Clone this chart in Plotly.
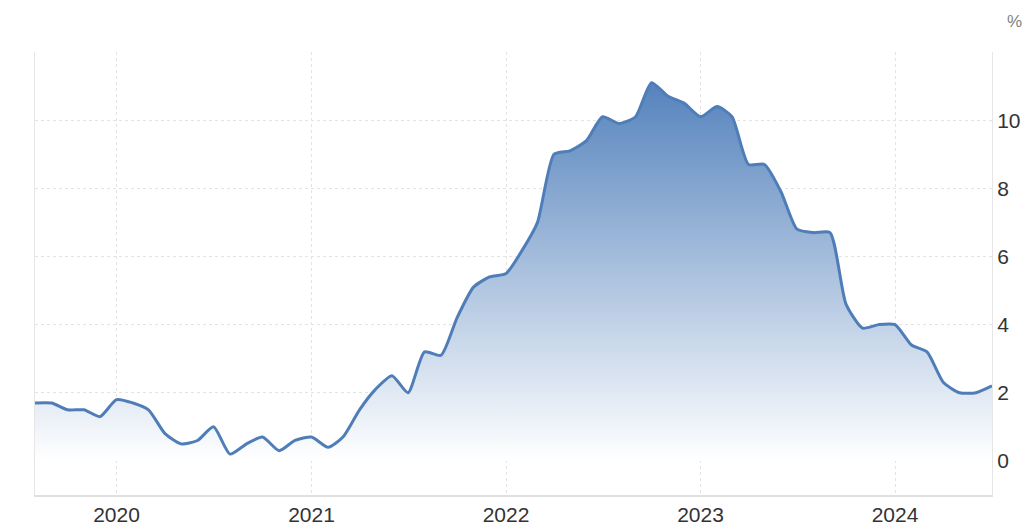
import plotly.graph_objects as go

months = [
    "2019-08", "2019-09", "2019-10", "2019-11", "2019-12",
    "2020-01", "2020-02", "2020-03", "2020-04", "2020-05", "2020-06",
    "2020-07", "2020-08", "2020-09", "2020-10", "2020-11", "2020-12",
    "2021-01", "2021-02", "2021-03", "2021-04", "2021-05", "2021-06",
    "2021-07", "2021-08", "2021-09", "2021-10", "2021-11", "2021-12",
    "2022-01", "2022-02", "2022-03", "2022-04", "2022-05", "2022-06",
    "2022-07", "2022-08", "2022-09", "2022-10", "2022-11", "2022-12",
    "2023-01", "2023-02", "2023-03", "2023-04", "2023-05", "2023-06",
    "2023-07", "2023-08", "2023-09", "2023-10", "2023-11", "2023-12",
    "2024-01", "2024-02", "2024-03", "2024-04", "2024-05", "2024-06",
    "2024-07",
]
inflation = [
    1.7, 1.7, 1.5, 1.5, 1.3,
    1.8, 1.7, 1.5, 0.8, 0.5, 0.6,
    1.0, 0.2, 0.5, 0.7, 0.3, 0.6,
    0.7, 0.4, 0.7, 1.5, 2.1, 2.5,
    2.0, 3.2, 3.1, 4.2, 5.1, 5.4,
    5.5, 6.2, 7.0, 9.0, 9.1, 9.4,
    10.1, 9.9, 10.1, 11.1, 10.7, 10.5,
    10.1, 10.4, 10.1, 8.7, 8.7, 7.9,
    6.8, 6.7, 6.7, 4.6, 3.9, 4.0,
    4.0, 3.4, 3.2, 2.3, 2.0, 2.0,
    2.2,
]
x_ticks = ["2020-01-01", "2021-01-01", "2022-01-01", "2023-01-01", "2024-01-01"]
x_labels = ["2020", "2021", "2022", "2023", "2024"]
y_ticks = [0, 2, 4, 6, 8, 10, 12]
y_labels = ["0", "2", "4", "6", "8", "10", ""]

dates = [m + "-01" for m in months]

fig = go.Figure()
fig.add_trace(go.Scatter(
    x=dates, y=inflation,
    mode="lines",
    line=dict(color="#4f7db8", width=3, shape="spline", smoothing=0.6),
    fill="tozeroy",
    fillgradient=dict(
        type="vertical",
        start=0, stop=max(inflation),
        colorscale=[[0, "rgba(255,255,255,1)"], [1, "#5583bd"]],
    ),
    hoverinfo="x+y",
))

fig.update_layout(
    width=1031, height=532,
    autosize=False,
    margin=dict(l=35, r=39, t=52, b=37, autoexpand=False),
    plot_bgcolor="white",
    paper_bgcolor="white",
    showlegend=False,
    font=dict(family="Arial, Liberation Sans, sans-serif", color="#333333"),
    xaxis=dict(
        range=["2019-08-01", "2024-07-01"],
        tickmode="array", tickvals=x_ticks, ticktext=x_labels,
        tickfont=dict(size=21, color="#333333"),
        showgrid=True, gridcolor="#e3e3e3", griddash="dot", gridwidth=1,
        showline=True, linecolor="#e0e0e0", linewidth=1.5,
        ticks="", zeroline=False,
    ),
    yaxis=dict(
        side="right",
        range=[-1, 12],
        tickmode="array", tickvals=y_ticks, ticktext=y_labels,
        tickfont=dict(size=21, color="#333333"),
        showgrid=True, gridcolor="#e3e3e3", griddash="dot", gridwidth=1,
        showline=True, mirror=True, linecolor="#e6e6e6", linewidth=1,
        ticks="", zeroline=False,
    ),
)

fig.add_annotation(
    text="%", xref="paper", yref="paper", x=1.024, y=1.068,
    xanchor="center", yanchor="middle", showarrow=False,
    font=dict(size=17, color="#808080"),
)

fig.write_html(
    "out.html",
    config={"displayModeBar": False},
    post_script="document.body.style.margin='0';",
)
